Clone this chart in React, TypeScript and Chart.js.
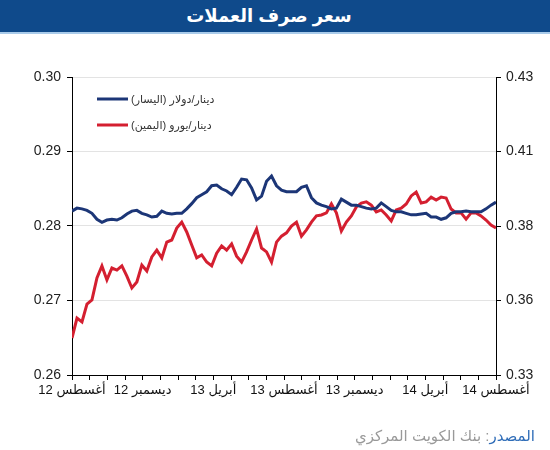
import React, { useEffect, useRef } from "react";
import { Chart, registerables } from "chart.js";

Chart.register(...registerables);

const TITLE = "سعر صرف العملات";
const SOURCE_LABEL = "المصدر";
const SOURCE_TEXT = ": بنك الكويت المركزي";

const seriesNames = ["دينار/دولار (اليسار)", "دينار/يورو (اليمين)"];

// x axis: months from Aug 2012 (0) to Aug 2014 (24)
const monthLabels = ["أغسطس 12", "ديسمبر 12", "أبريل 13", "أغسطس 13", "ديسمبر 13", "أبريل 14", "أغسطس 14"];
const monthSpan = 24;

const leftTickLabels = ["0.26", "0.27", "0.28", "0.29", "0.30"];
const rightTickLabels = ["0.33", "0.36", "0.38", "0.41", "0.43"];

const dinarDollar = [
  0.2820, 0.2824, 0.2823, 0.2821, 0.2817, 0.2809, 0.2805, 0.2808, 0.2809, 0.2808,
  0.2811, 0.2816, 0.2820, 0.2821, 0.2817, 0.2815, 0.2812, 0.2813, 0.2820, 0.2817,
  0.2816, 0.2817, 0.2817, 0.2823, 0.2830, 0.2838, 0.2842, 0.2846, 0.2854, 0.2855,
  0.2850, 0.2847, 0.2842, 0.2852, 0.2863, 0.2862, 0.2851, 0.2835, 0.2840, 0.2860,
  0.2867, 0.2854, 0.2848, 0.2846, 0.2846, 0.2846, 0.2852, 0.2854, 0.2838, 0.2831,
  0.2828, 0.2826, 0.2823, 0.2824, 0.2836, 0.2832, 0.2828, 0.2828, 0.2826, 0.2824,
  0.2823, 0.2824, 0.2831, 0.2826, 0.2821, 0.2819, 0.2819, 0.2817, 0.2815, 0.2815,
  0.2816, 0.2817, 0.2812, 0.2812, 0.2809, 0.2811, 0.2817, 0.2819, 0.2819, 0.2820,
  0.2819, 0.2819, 0.2819, 0.2823, 0.2828, 0.2832,
];

const dinarEuro = [
  0.3424, 0.3491, 0.3478, 0.3538, 0.3552, 0.3626, 0.3666, 0.3619, 0.3659, 0.3652,
  0.3666, 0.3632, 0.3592, 0.3612, 0.3669, 0.3649, 0.3696, 0.3719, 0.3693, 0.3746,
  0.3753, 0.3793, 0.3813, 0.3780, 0.3736, 0.3693, 0.3703, 0.3679, 0.3666, 0.3709,
  0.3733, 0.3719, 0.3740, 0.3699, 0.3679, 0.3713, 0.3753, 0.3790, 0.3726, 0.3713,
  0.3679, 0.3746, 0.3766, 0.3777, 0.3800, 0.3813, 0.3766, 0.3787, 0.3813, 0.3834,
  0.3837, 0.3844, 0.3874, 0.3844, 0.3783, 0.3813, 0.3834, 0.3864, 0.3877, 0.3881,
  0.3870, 0.3847, 0.3854, 0.3837, 0.3817, 0.3854, 0.3860, 0.3874, 0.3901, 0.3914,
  0.3877, 0.3881, 0.3897, 0.3887, 0.3897, 0.3894, 0.3857, 0.3844, 0.3844, 0.3823,
  0.3844, 0.3844, 0.3834, 0.3820, 0.3803, 0.3793,
];

const BLUE = "#1c3677";
const RED = "#d41f30";
const FONT = 'Arial, "Liberation Sans", "DejaVu Sans", sans-serif';

const toPoints = (arr: number[]) =>
  arr.map((v, i) => ({ x: (i * monthSpan) / (arr.length - 1), y: v }));

const legendPlugin = {
  id: "insideLegend",
  afterDraw(chart: any) {
    const ctx = chart.ctx;
    const area = chart.chartArea;
    const items = chart.data.datasets;
    ctx.save();
    ctx.direction = "rtl";
    ctx.font = "11px " + FONT;
    ctx.textBaseline = "middle";
    ctx.textAlign = "left";
    items.forEach((ds: any, i: number) => {
      const y = area.top + 22 + i * 26;
      const x0 = area.left + 25;
      ctx.strokeStyle = ds.borderColor;
      ctx.lineWidth = 3;
      ctx.beginPath();
      ctx.moveTo(x0, y);
      ctx.lineTo(x0 + 31, y);
      ctx.stroke();
      ctx.fillStyle = "#333";
      ctx.fillText(ds.label, x0 + 34, y + 1);
    });
    ctx.restore();
  },
};

export default function App() {
  const canvasRef = useRef<HTMLCanvasElement | null>(null);

  useEffect(() => {
    document.body.style.margin = "0";
    const canvas = canvasRef.current;
    if (!canvas) return;
    Chart.defaults.font.family = FONT;
    const chart = new Chart(canvas, {
      type: "line",
      data: {
        datasets: [
          {
            label: seriesNames[0],
            data: toPoints(dinarDollar),
            borderColor: BLUE,
            backgroundColor: BLUE,
            borderWidth: 3,
            pointRadius: 0,
            tension: 0,
            yAxisID: "y",
          },
          {
            label: seriesNames[1],
            data: toPoints(dinarEuro),
            borderColor: RED,
            backgroundColor: RED,
            borderWidth: 3,
            pointRadius: 0,
            tension: 0,
            yAxisID: "y1",
          },
        ],
      },
      options: {
        responsive: false,
        animation: false,
        events: [],
        layout: { padding: { top: 77, left: 0, right: 0, bottom: 0 } },
        plugins: { legend: { display: false }, tooltip: { enabled: false }, title: { display: false } },
        scales: {
          x: {
            type: "linear",
            min: 0,
            max: monthSpan,
            border: { color: "#000", width: 1 },
            grid: { drawOnChartArea: false, color: "#000", tickLength: 5 },
            ticks: {
              stepSize: 1,
              autoSkip: false,
              maxRotation: 0,
              color: "#111",
              font: { size: 13 },
              padding: 3,
              callback: (v: any) => (Number(v) % 4 === 0 ? monthLabels[Number(v) / 4] : ""),
            },
            afterFit: (s: any) => {
              s.height = 75;
            },
          },
          y: {
            type: "linear",
            position: "left",
            min: 0.26,
            max: 0.3,
            border: { color: "#000", width: 1 },
            grid: {
              color: (c: any) => (c.index === 0 ? "rgba(0,0,0,0)" : "#e3e3e3"),
              tickColor: "#000",
              tickLength: 5,
            },
            ticks: {
              stepSize: 0.01,
              color: "#222",
              font: { size: 14 },
              padding: 6,
              callback: (v: any) => leftTickLabels[Math.round((Number(v) - 0.26) / 0.01)],
            },
            afterFit: (s: any) => {
              s.width = 72;
            },
          },
          y1: {
            type: "linear",
            position: "right",
            min: 0.33,
            max: 0.43,
            border: { color: "#000", width: 1 },
            grid: { drawOnChartArea: false, tickColor: "#000", tickLength: 5 },
            ticks: {
              stepSize: 0.025,
              color: "#222",
              font: { size: 14 },
              padding: 5,
              callback: (v: any) => rightTickLabels[Math.round((Number(v) - 0.33) / 0.025)],
            },
            afterFit: (s: any) => {
              s.width = 54;
            },
          },
        },
      },
      plugins: [legendPlugin],
    });
    return () => chart.destroy();
  }, []);

  return (
    <div style={{ position: "absolute", left: 0, top: 0, width: 550, height: 450, background: "#fff" }}>
      <canvas ref={canvasRef} width={550} height={450} dir="rtl" style={{ position: "absolute", left: 0, top: 0, width: 550, height: 450 }} />
      <div
        dir="rtl"
        style={{
          position: "absolute",
          left: 0,
          top: 0,
          width: 550,
          height: 32,
          background: "#0f4a8b",
          borderBottom: "2px solid #a9cbea",
          color: "#fff",
          fontFamily: FONT,
          fontWeight: "bold",
          fontSize: 18,
          lineHeight: "32px",
          textAlign: "center",
          boxSizing: "content-box",
        }}
      >
        <span style={{ position: "relative", left: -6 }}>{TITLE}</span>
      </div>
      <div
        dir="rtl"
        style={{
          position: "absolute",
          right: 15,
          top: 427,
          fontFamily: FONT,
          fontSize: 15,
          whiteSpace: "nowrap",
        }}
      >
        <span style={{ color: "#2f6db8" }}>{SOURCE_LABEL}</span>
        <span style={{ color: "#999" }}>{SOURCE_TEXT}</span>
      </div>
    </div>
  );
}
